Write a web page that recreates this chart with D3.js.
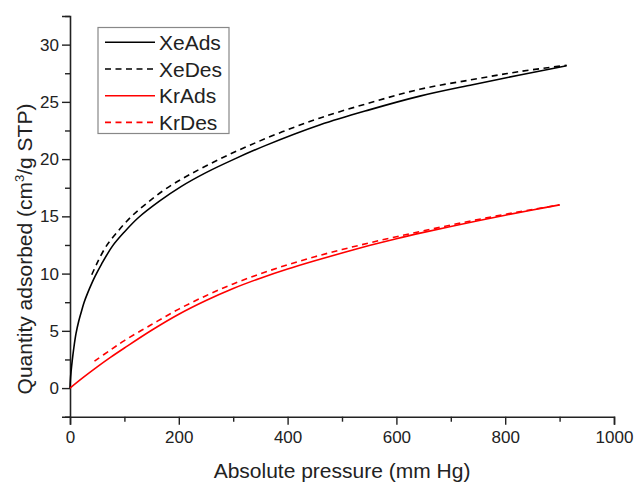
<!DOCTYPE html>
<html>
<head>
<meta charset="utf-8">
<script src="https://cdn.jsdelivr.net/npm/d3@7"></script>
<style>
  html, body { margin: 0; padding: 0; background: #fff; }
  svg { display: block; font-family: "Liberation Sans", Arial, Helvetica, sans-serif; }
</style>
</head>
<body>
<svg id="chart" width="637" height="484"></svg>
<script>
// ---- data ----
const xeAdsP = [0, 1, 2, 4, 7, 11, 16, 22, 26, 32, 40, 46, 58, 78, 100, 126, 165, 204, 250, 302, 360, 460, 550, 643, 740, 827, 913];
const xeAdsQ = [0, 0.9, 1.45, 2.35, 3.5, 4.75, 5.84, 6.86, 7.5, 8.25, 9.14, 9.75, 10.83, 12.4, 13.64, 14.9, 16.35, 17.6, 18.82, 20.0, 21.2, 23.0, 24.3, 25.5, 26.5, 27.35, 28.15];

const xeDesP = [40, 50, 66, 85, 112, 140, 176, 220, 275, 330, 390, 460, 550, 643, 740, 827, 913];
const xeDesQ = [9.9, 10.93, 12.35, 13.52, 14.95, 16.1, 17.4, 18.65, 20.0, 21.2, 22.38, 23.6, 24.9, 26.1, 26.95, 27.65, 28.2];

const krAdsP = [0, 25, 50, 75, 100, 150, 200, 250, 300, 350, 400, 450, 500, 550, 600, 650, 700, 750, 800, 850, 900];
const krAdsQ = [0, 0.95, 1.85, 2.7, 3.5, 5.05, 6.45, 7.65, 8.7, 9.6, 10.4, 11.12, 11.8, 12.45, 13.05, 13.6, 14.12, 14.62, 15.1, 15.56, 16.0];

const krDesP = [45, 75, 100, 150, 200, 250, 300, 350, 400, 450, 500, 550, 600, 650, 700, 750, 800, 850, 900];
const krDesQ = [2.35, 3.35, 4.15, 5.55, 6.9, 8.07, 9.1, 9.98, 10.77, 11.47, 12.1, 12.68, 13.22, 13.74, 14.24, 14.72, 15.18, 15.6, 16.0];

const seriesNames = ["XeAds", "XeDes", "KrAds", "KrDes"];
const xMajorTicks = [0, 200, 400, 600, 800, 1000];
const xMinorTicks = [100, 300, 500, 700, 900];
const yMajorTicks = [0, 5, 10, 15, 20, 25, 30];
const yMinorTicks = [-2.5, 2.5, 7.5, 12.5, 17.5, 22.5, 27.5, 32.5];
const xTitle = "Absolute pressure (mm Hg)";

// ---- build ----
const series = [
  { name: seriesNames[0], p: xeAdsP, q: xeAdsQ, color: "#000", dash: null },
  { name: seriesNames[1], p: xeDesP, q: xeDesQ, color: "#000", dash: "6,4.5" },
  { name: seriesNames[2], p: krAdsP, q: krAdsQ, color: "#ff0000", dash: null },
  { name: seriesNames[3], p: krDesP, q: krDesQ, color: "#ff0000", dash: "6,4.5" }
];

const svg = d3.select("#chart");
const x = d3.scaleLinear().domain([0, 1000]).range([70, 614]);
const y = d3.scaleLinear().domain([-2.5, 32.5]).range([416.7, 16]);

const axisColor = "#222";

// x axis
const xAxisG = svg.append("g").attr("transform", `translate(0,${y(-2.5)})`);
xAxisG.call(d3.axisBottom(x).tickValues(xMajorTicks).tickSize(8).tickPadding(6).tickFormat(d3.format("d")));
const xMinorG = svg.append("g").attr("transform", `translate(0,${y(-2.5)})`);
xMinorG.call(d3.axisBottom(x).tickValues(xMinorTicks).tickSize(5).tickFormat(""));
xMinorG.select(".domain").remove();

// y axis
const yAxisG = svg.append("g").attr("transform", `translate(${x(0)},0)`);
yAxisG.call(d3.axisLeft(y).tickValues(yMajorTicks).tickSize(8).tickPadding(3).tickFormat(d3.format("d")));
const yMinorG = svg.append("g").attr("transform", `translate(${x(0)},0)`);
yMinorG.call(d3.axisLeft(y).tickValues(yMinorTicks).tickSize(5).tickFormat(""));
yMinorG.select(".domain").remove();

svg.selectAll(".domain").attr("stroke", axisColor).attr("stroke-width", 1.6);
svg.selectAll(".tick line").attr("stroke", axisColor).attr("stroke-width", 1.4);
svg.selectAll(".tick text").attr("font-size", 17).attr("fill", "#222")
  .attr("font-family", '"Liberation Sans", Arial, sans-serif');

// curves
const line = d3.line().x(d => x(d[0])).y(d => y(d[1])).curve(d3.curveCatmullRom.alpha(0.5));
series.forEach(s => {
  const pts = s.p.map((p, i) => [p, s.q[i]]);
  svg.append("path")
    .datum(pts)
    .attr("d", line)
    .attr("fill", "none")
    .attr("stroke", s.color)
    .attr("stroke-width", 1.6)
    .attr("stroke-dasharray", s.dash);
});

// axis titles
svg.append("text")
  .attr("x", (x(0) + x(1000)) / 2)
  .attr("y", 478)
  .attr("text-anchor", "middle")
  .attr("font-size", 21)
  .attr("fill", "#222")
  .text(xTitle);

const yt = svg.append("text")
  .attr("transform", "translate(32,249) rotate(-90)")
  .attr("text-anchor", "middle")
  .attr("font-size", 21)
  .attr("fill", "#222");
yt.append("tspan").text("Quantity adsorbed (cm");
yt.append("tspan").attr("font-size", 13).attr("dy", -8).text("3");
yt.append("tspan").attr("dy", 8).text("/g STP)");

// legend
const lg = svg.append("g");
lg.append("rect")
  .attr("x", 98).attr("y", 27.5).attr("width", 131).attr("height", 106)
  .attr("fill", "#fff").attr("stroke", "#888").attr("stroke-width", 1.2);
series.forEach((s, i) => {
  const cy = 42.3 + i * 26.7;
  lg.append("line")
    .attr("x1", 105).attr("x2", 155).attr("y1", cy).attr("y2", cy)
    .attr("stroke", s.color).attr("stroke-width", 1.6)
    .attr("stroke-dasharray", s.dash);
  lg.append("text")
    .attr("x", 159).attr("y", cy + 7.5)
    .attr("font-size", 21).attr("fill", "#222")
    .text(s.name);
});
</script>
</body>
</html>
